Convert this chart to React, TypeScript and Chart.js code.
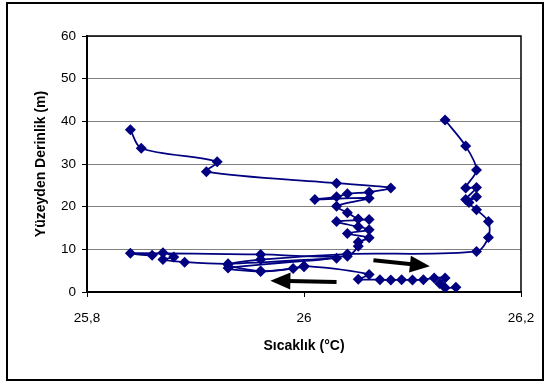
import React, { useEffect, useRef } from 'react';
import { Chart, registerables } from 'chart.js';

Chart.register(...registerables);

// Left cast (deep to shallow) + shallow transect + near-surface run
const leftCastTemp = [
  25.84, 25.85, 25.92, 25.91, 26.03, 26.08, 26.06, 26.04, 26.03, 26.01, 26.06, 26.03,
  26.04, 26.05, 26.06, 26.03, 26.05, 26.06, 26.04, 26.06, 26.05, 26.05,
  26.04, 25.96, 25.84, 25.86, 25.87, 25.88, 25.87, 25.89, 25.93, 26.03, 25.93, 25.96,
  25.99, 26.0, 26.06, 26.05,
  26.07, 26.08, 26.09, 26.1, 26.11, 26.12, 26.13, 26.125, 26.13, 26.14,
];
const leftCastDepth = [
  38.0, 33.7, 30.5, 28.2, 25.5, 24.4, 23.4, 23.0, 22.3, 21.7, 22.0, 20.1,
  18.6, 17.1, 17.0, 16.5, 15.3, 14.6, 13.7, 12.7, 11.7, 10.7,
  8.4, 8.8, 9.1, 8.6, 9.2, 8.2, 7.6, 7.0, 6.6, 7.9, 5.6, 4.8,
  5.5, 6.1, 4.1, 3.0,
  2.9, 2.8, 2.9, 2.8, 2.9, 3.3, 3.3, 2.0, 1.0, 1.1,
];

// Right cast (deep to shallow)
const rightCastTemp = [
  26.13, 26.149, 26.159, 26.149, 26.159, 26.149, 26.159, 26.152, 26.159, 26.17, 26.17, 26.159,
  26.04, 25.96, 25.93, 25.96, 26.0,
];
const rightCastDepth = [
  40.3, 34.2, 28.6, 24.4, 24.5, 21.7, 22.3, 21.0, 19.3, 16.5, 12.8, 9.5,
  8.9, 7.6, 6.4, 4.9, 5.9,
];

const yTickValues = [0, 10, 20, 30, 40, 50, 60];
const xTickValues = [25.8, 26.0, 26.2];
const xTickLabels = ['25,8', '26', '26,2'];

// Direction arrows (data coordinates)
const arrowStartTemp = [26.064, 26.03];
const arrowStartDepth = [7.45, 2.35];
const arrowEndTemp = [26.116, 25.969];
const arrowEndDepth = [6.05, 2.65];

const NAVY = '#000080';
const FONT = '"Liberation Sans", Arial, sans-serif';

const toPoints = (xs: number[], ys: number[]) => xs.map((x, i) => ({ x, y: ys[i] }));

const framePlugin = {
  id: 'frameAndArrows',
  afterDatasetsDraw(chart: any) {
    const { ctx, chartArea, scales } = chart;
    ctx.save();
    ctx.strokeStyle = '#000';
    ctx.lineWidth = 1.5;
    ctx.beginPath();
    ctx.moveTo(chartArea.left, chartArea.top);
    ctx.lineTo(chartArea.right, chartArea.top);
    ctx.lineTo(chartArea.right, chartArea.bottom);
    ctx.stroke();
    for (let i = 0; i < arrowStartTemp.length; i++) {
      const x0 = scales.x.getPixelForValue(arrowStartTemp[i]);
      const y0 = scales.y.getPixelForValue(arrowStartDepth[i]);
      const x1 = scales.x.getPixelForValue(arrowEndTemp[i]);
      const y1 = scales.y.getPixelForValue(arrowEndDepth[i]);
      const ang = Math.atan2(y1 - y0, x1 - x0);
      const headLen = 20;
      const headHalf = 8.5;
      const bx = x1 - headLen * Math.cos(ang);
      const by = y1 - headLen * Math.sin(ang);
      ctx.strokeStyle = '#000';
      ctx.fillStyle = '#000';
      ctx.lineWidth = 4;
      ctx.lineCap = 'butt';
      ctx.beginPath();
      ctx.moveTo(x0, y0);
      ctx.lineTo(bx + 2 * Math.cos(ang), by + 2 * Math.sin(ang));
      ctx.stroke();
      ctx.beginPath();
      ctx.moveTo(x1, y1);
      ctx.lineTo(bx - headHalf * Math.sin(ang), by + headHalf * Math.cos(ang));
      ctx.lineTo(bx + headHalf * Math.sin(ang), by - headHalf * Math.cos(ang));
      ctx.closePath();
      ctx.fill();
    }
    ctx.restore();
  },
};

export default function App() {
  const canvasRef = useRef<HTMLCanvasElement | null>(null);

  useEffect(() => {
    if (!canvasRef.current) return;
    const dsStyle = {
      showLine: true,
      borderColor: NAVY,
      backgroundColor: NAVY,
      borderWidth: 1.75,
      pointStyle: 'rectRot' as const,
      pointRadius: 5.5,
      pointBorderWidth: 0,
      pointBackgroundColor: NAVY,
      tension: 0.3,
    };
    const chart = new Chart(canvasRef.current, {
      type: 'scatter',
      data: {
        datasets: [
          { ...dsStyle, label: 'A', data: toPoints(leftCastTemp, leftCastDepth) },
          { ...dsStyle, label: 'B', data: toPoints(rightCastTemp, rightCastDepth) },
        ],
      },
      plugins: [framePlugin],
      options: {
        animation: false,
        responsive: false,
        layout: { padding: { left: 0, top: 36, right: 29, bottom: 0 } },
        plugins: { legend: { display: false }, tooltip: { enabled: false } },
        scales: {
          x: {
            type: 'linear',
            min: 25.8,
            max: 26.2,
            afterFit: (s: any) => { s.height = 93; },
            afterBuildTicks: (s: any) => { s.ticks = xTickValues.map((v) => ({ value: v })); },
            ticks: {
              color: '#000',
              font: { family: FONT, size: 13.5 },
              padding: 13,
              maxRotation: 0,
              callback: (_v: any, i: number) => xTickLabels[i],
            },
            grid: { drawOnChartArea: false, drawTicks: true, tickLength: 5, tickColor: '#000', lineWidth: 1 },
            border: { display: true, color: '#000', width: 2 },
            title: {
              display: true,
              text: 'Sıcaklık (°C)',
              color: '#000',
              font: { family: FONT, size: 14, weight: 'bold' },
              padding: { top: 0, bottom: 30 },
            },
          },
          y: {
            type: 'linear',
            min: 0,
            max: 60,
            afterFit: (s: any) => { s.width = 87; },
            afterBuildTicks: (s: any) => { s.ticks = yTickValues.map((v) => ({ value: v })); },
            ticks: {
              color: '#000',
              font: { family: FONT, size: 13.5 },
              padding: 6,
            },
            grid: { color: '#808080', lineWidth: 1, drawTicks: true, tickLength: 5, tickColor: '#000' },
            border: { display: true, color: '#000', width: 2 },
            title: {
              display: true,
              text: 'Yüzeyden Derinlik (m)',
              color: '#000',
              font: { family: FONT, size: 14, weight: 'bold' },
              padding: { top: 33, bottom: 0 },
            },
          },
        },
      },
    });
    return () => chart.destroy();
  }, []);

  return (
    <div style={{ position: 'fixed', left: 0, top: 0, width: 550, height: 385, background: '#fff' }}>
      <canvas ref={canvasRef} width={550} height={385} style={{ position: 'absolute', left: 0, top: 0 }} />
      <div
        style={{
          position: 'absolute',
          left: 6,
          top: 2,
          width: 538,
          height: 379,
          border: '2px solid #000',
          boxSizing: 'border-box',
          pointerEvents: 'none',
        }}
      />
    </div>
  );
}
